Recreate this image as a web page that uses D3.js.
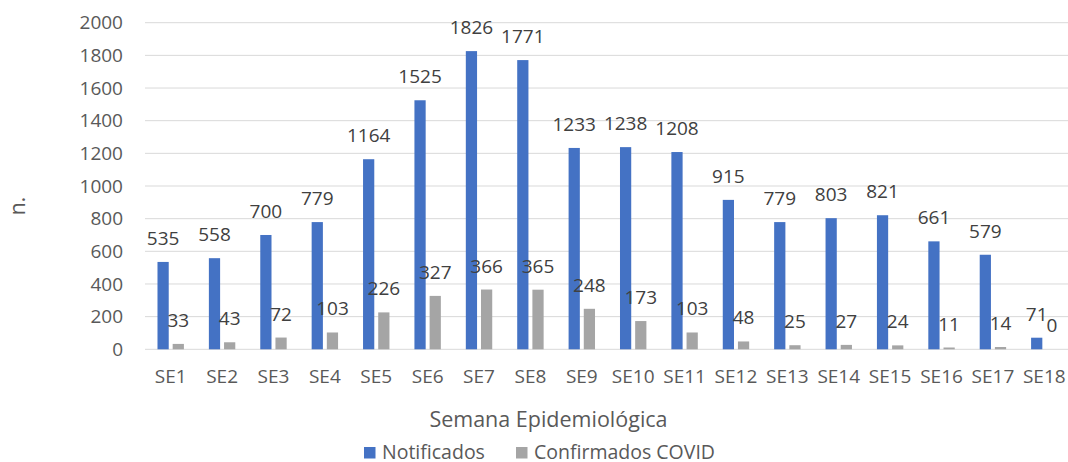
<!DOCTYPE html>
<html>
<head>
<meta charset="utf-8">
<script src="https://cdn.jsdelivr.net/npm/d3@7"></script>
<style>
  body { margin: 0; background: #fff; }
  svg text { font-family: "Open Sans", Lato, sans-serif; }
</style>
</head>
<body>
<svg width="1068" height="462"></svg>
<script>
// data
var weeks = ["SE1","SE2","SE3","SE4","SE5","SE6","SE7","SE8","SE9","SE10","SE11","SE12","SE13","SE14","SE15","SE16","SE17","SE18"];
var notificados = [535, 558, 700, 779, 1164, 1525, 1826, 1771, 1233, 1238, 1208, 915, 779, 803, 821, 661, 579, 71];
var confirmados = [33, 43, 72, 103, 226, 327, 366, 365, 248, 173, 103, 48, 25, 27, 24, 11, 14, 0];
var seriesNames = ["Notificados", "Confirmados COVID"];
var yTicks = [0, 200, 400, 600, 800, 1000, 1200, 1400, 1600, 1800, 2000];

var colors = ["#4472C4", "#A5A5A5"];

var svg = d3.select("svg"),
    width = +svg.attr("width"),
    height = +svg.attr("height");

var plotLeft = 145, plotRight = 1070, plotTop = 22.7, plotBottom = 349.3;

var x0 = d3.scaleBand().domain(weeks).range([plotLeft, plotRight]).paddingInner(0.486).paddingOuter(0.243);
var x1 = d3.scaleBand().domain(seriesNames).range([0, x0.bandwidth()]).paddingInner(0.26);
var y = d3.scaleLinear().domain([0, 2000]).range([plotBottom, plotTop]);

// gridlines
svg.append("g")
  .selectAll("line")
  .data(yTicks)
  .enter().append("line")
    .attr("x1", plotLeft).attr("x2", width)
    .attr("y1", function(d) { return y(d); })
    .attr("y2", function(d) { return y(d); })
    .attr("stroke", "#D9D9D9")
    .attr("stroke-width", 1);

// y axis labels
var yAxis = svg.append("g")
    .attr("transform", "translate(" + (plotLeft - 10) + ",0)")
    .call(d3.axisLeft(y).tickValues(yTicks).tickFormat(d3.format("d")).tickSize(0).tickPadding(12));
yAxis.select(".domain").remove();
yAxis.selectAll("text").attr("fill", "#595959").style("font-size", "19px")
    .style("font-family", "'Open Sans', sans-serif");

// x axis labels
var xAxis = svg.append("g")
    .attr("transform", "translate(0," + plotBottom + ")")
    .call(d3.axisBottom(x0).tickSize(0).tickPadding(20));
xAxis.select(".domain").remove();
xAxis.selectAll("text").attr("fill", "#595959").style("font-size", "19px")
    .style("font-family", "'Open Sans', sans-serif");

var rows = weeks.map(function(w, i) {
  return { week: w, values: [notificados[i], confirmados[i]] };
});

var groups = svg.append("g")
  .selectAll("g")
  .data(rows)
  .enter().append("g")
    .attr("transform", function(d) { return "translate(" + x0(d.week) + ",0)"; });

groups.selectAll("rect")
  .data(function(d) { return d.values.map(function(v, j) { return { s: seriesNames[j], v: v, j: j }; }); })
  .enter().append("rect")
    .attr("x", function(d) { return x1(d.s); })
    .attr("width", x1.bandwidth())
    .attr("y", function(d) { return y(d.v); })
    .attr("height", function(d) { return plotBottom - y(d.v); })
    .attr("fill", function(d) { return colors[d.j]; });

groups.selectAll("text.lbl")
  .data(function(d) { return d.values.map(function(v, j) { return { s: seriesNames[j], v: v }; }); })
  .enter().append("text")
    .attr("class", "lbl")
    .attr("x", function(d) { return x1(d.s) + x1.bandwidth() / 2; })
    .attr("y", function(d) { return y(d.v) - 17; })
    .attr("text-anchor", "middle")
    .attr("fill", "#404040")
    .style("font-size", "19px")
    .text(function(d) { return d.v; });

// axis titles
svg.append("text")
    .attr("transform", "translate(25,206) rotate(-90)")
    .attr("text-anchor", "middle")
    .attr("fill", "#595959")
    .style("font-size", "21px")
    .text("n.");

svg.append("text")
    .attr("x", 548.5).attr("y", 426.5)
    .attr("text-anchor", "middle")
    .attr("fill", "#595959")
    .style("font-size", "21.5px")
    .text("Semana Epidemiológica");

// legend
var legendX = [364, 516];
var legend = svg.append("g")
  .selectAll("g")
  .data(seriesNames)
  .enter().append("g")
    .attr("transform", function(d, i) { return "translate(" + legendX[i] + ",447)"; });
legend.append("rect")
    .attr("width", 11.5).attr("height", 11.5)
    .attr("fill", function(d, i) { return colors[i]; });
legend.append("text")
    .attr("x", 18).attr("y", 12)
    .attr("fill", "#595959")
    .style("font-size", "19.5px")
    .text(function(d) { return d; });
</script>
</body>
</html>
